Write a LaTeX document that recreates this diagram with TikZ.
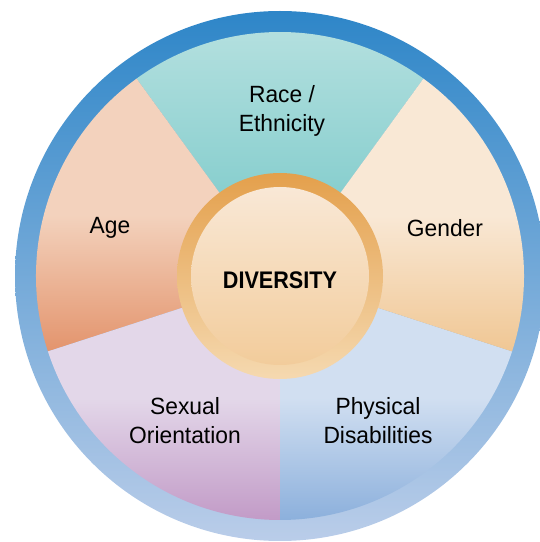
\documentclass[tikz,border=0pt]{standalone}
\usepackage{fontspec}
\setmainfont{Liberation Sans}[FakeStretch=0.97]
\newfontfamily\divfont[FakeStretch=0.9]{Liberation Sans Bold}

\definecolor{ringtop}{HTML}{2E86C8}
\definecolor{ringbot}{HTML}{BACDE9}
\definecolor{racetop}{HTML}{B7E1E0}
\definecolor{racebot}{HTML}{72C6C6}
\definecolor{gendertop}{HTML}{F9E8D5}
\definecolor{genderbot}{HTML}{F0C794}
\definecolor{agetop}{HTML}{F3D2BD}
\definecolor{agebot}{HTML}{E3946D}
\definecolor{sexualtop}{HTML}{E3D7E9}
\definecolor{sexualbot}{HTML}{C29BC7}
\definecolor{phystop}{HTML}{D1DFF1}
\definecolor{physbot}{HTML}{8CB0DC}
\definecolor{hubtop}{HTML}{E4A04C}
\definecolor{hubbot}{HTML}{F5D9B0}
\definecolor{disktop}{HTML}{F9E8D6}
\definecolor{diskbot}{HTML}{F2CC9B}

\begin{document}
\begin{tikzpicture}[x=1pt, y=1pt,
    segtext/.style = {align=center, text=black, font=\fontsize{23.5}{29}\selectfont}]
    \useasboundingbox (0,0) rectangle (540,542);
    \clip (0,0) rectangle (540,542);
    \coordinate (c) at (280,266);

    % outer ring
    \shade[top color=ringtop, bottom color=ringbot] (c) circle (265);

    % the five segments
    \shade[top color=racetop, bottom color=racebot]
        (c) -- ++(54:244) arc[start angle=54, end angle=126, radius=244] -- cycle;
    \shade[top color=agetop, bottom color=agebot, middle color=agetop]
        (c) -- ++(126:244) arc[start angle=126, end angle=198, radius=244] -- cycle;
    \shade[top color=sexualtop, bottom color=sexualbot, middle color=sexualtop]
        (c) -- ++(198:244) arc[start angle=198, end angle=270, radius=244] -- cycle;
    \shade[top color=phystop, bottom color=physbot, middle color=phystop]
        (c) -- ++(270:244) arc[start angle=270, end angle=342, radius=244] -- cycle;
    \shade[top color=gendertop, bottom color=genderbot, middle color=gendertop]
        (c) -- ++(-18:244) arc[start angle=-18, end angle=54, radius=244] -- cycle;

    % hub
    \shade[top color=hubtop, bottom color=hubbot] (c) circle (103);
    \shade[top color=disktop, bottom color=diskbot] (c) circle (89);

    \node[segtext] (race) at (282,431) {Race /\\Ethnicity};
    \node[segtext] (age) at (110,314) {Age};
    \node[segtext] (gender) at (445,314) {Gender};
    \node[segtext] (sexual) at (185,121) {Sexual\\Orientation};
    \node[segtext] (physical) at (378,121) {Physical\\Disabilities};
    \node[font=\divfont\fontsize{24}{28}\selectfont] (diversity) at (280,262) {DIVERSITY};
\end{tikzpicture}
\end{document}
